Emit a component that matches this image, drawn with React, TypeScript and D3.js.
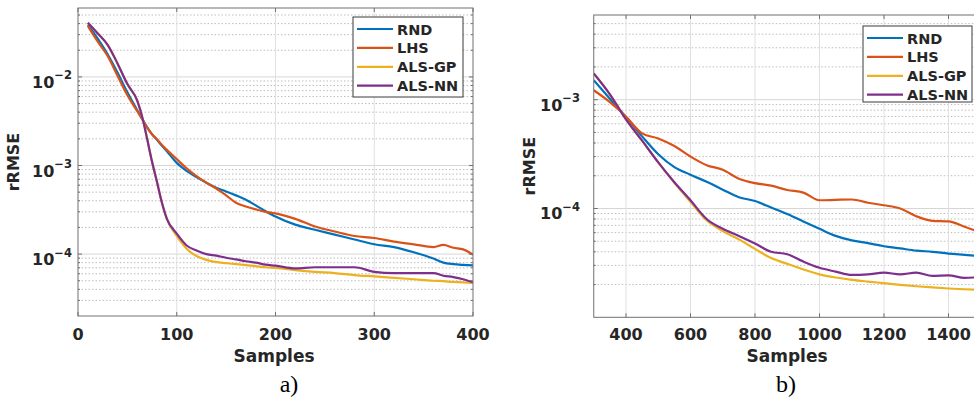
import { useEffect, useRef } from 'react'
import * as d3 from 'd3'

const NAMES = ['RND', 'LHS', 'ALS-GP', 'ALS-NN']
const COLORS = ['#0072BD', '#D95319', '#EDB120', '#7E2F8E']

// panel a)
const A_SAMPLES = [10, 20, 30, 40, 50, 60, 66, 70, 75, 80, 85, 90, 100, 110, 120, 130, 140, 150, 160, 170, 180, 190, 200, 220, 240, 260, 280, 300, 320, 340, 360, 370, 380, 390, 400]
const A_RND = [3.9e-2, 2.7e-2, 1.8e-2, 1.12e-2, 6.7e-3, 4.2e-3, 3.2e-3, 2.7e-3, 2.25e-3, 1.95e-3, 1.67e-3, 1.45e-3, 1.07e-3, 8.7e-4, 7.4e-4, 6.4e-4, 5.6e-4, 5.1e-4, 4.6e-4, 4.1e-4, 3.55e-4, 3.05e-4, 2.65e-4, 2.15e-4, 1.88e-4, 1.66e-4, 1.46e-4, 1.29e-4, 1.2e-4, 1.05e-4, 8.9e-5, 8.0e-5, 7.7e-5, 7.55e-5, 7.45e-5]
const A_LHS = [3.74e-2, 2.5e-2, 1.72e-2, 1.03e-2, 6.2e-3, 4.1e-3, 3.2e-3, 2.7e-3, 2.25e-3, 1.97e-3, 1.7e-3, 1.5e-3, 1.18e-3, 9.3e-4, 7.6e-4, 6.4e-4, 5.5e-4, 4.6e-4, 3.8e-4, 3.45e-4, 3.2e-4, 3.0e-4, 2.88e-4, 2.5e-4, 2.05e-4, 1.8e-4, 1.6e-4, 1.52e-4, 1.38e-4, 1.29e-4, 1.2e-4, 1.27e-4, 1.18e-4, 1.13e-4, 9.8e-5]
const A_GP = [4.1e-2, 3.1e-2, 2.3e-2, 1.42e-2, 8.3e-3, 5.4e-3, 3.2e-3, 2.0e-3, 1.1e-3, 6.5e-4, 3.8e-4, 2.5e-4, 1.6e-4, 1.15e-4, 9.5e-5, 8.6e-5, 8.1e-5, 7.9e-5, 7.7e-5, 7.5e-5, 7.3e-5, 7.1e-5, 7.0e-5, 6.6e-5, 6.3e-5, 6.1e-5, 5.8e-5, 5.6e-5, 5.4e-5, 5.2e-5, 5.0e-5, 4.95e-5, 4.85e-5, 4.8e-5, 4.72e-5]
const A_NN = [4.1e-2, 3.1e-2, 2.3e-2, 1.42e-2, 8.3e-3, 5.4e-3, 3.2e-3, 2.0e-3, 1.1e-3, 6.5e-4, 3.8e-4, 2.5e-4, 1.7e-4, 1.25e-4, 1.1e-4, 1.0e-4, 9.6e-5, 9.1e-5, 8.7e-5, 8.3e-5, 8.0e-5, 7.6e-5, 7.4e-5, 6.9e-5, 7.1e-5, 7.1e-5, 7.1e-5, 6.3e-5, 6.1e-5, 6.1e-5, 6.1e-5, 5.7e-5, 5.5e-5, 5.2e-5, 4.8e-5]
const A_XTICKS = [0, 100, 200, 300, 400]
const A_YTICKS = [1e-4, 1e-3, 1e-2]

// panel b)
const B_SAMPLES = [300, 350, 400, 450, 500, 550, 600, 650, 700, 750, 800, 850, 900, 950, 1000, 1050, 1100, 1150, 1200, 1250, 1300, 1350, 1400, 1450, 1500]
const B_RND = [1.51e-3, 1.02e-3, 6.9e-4, 4.6e-4, 3.15e-4, 2.4e-4, 2.04e-4, 1.76e-4, 1.49e-4, 1.27e-4, 1.17e-4, 1.02e-4, 8.9e-5, 7.6e-5, 6.5e-5, 5.6e-5, 5.1e-5, 4.8e-5, 4.5e-5, 4.3e-5, 4.1e-5, 4.0e-5, 3.85e-5, 3.75e-5, 3.65e-5]
const B_LHS = [1.22e-3, 9.5e-4, 7e-4, 4.9e-4, 4.4e-4, 3.75e-4, 3e-4, 2.5e-4, 2.27e-4, 1.88e-4, 1.71e-4, 1.62e-4, 1.48e-4, 1.4e-4, 1.19e-4, 1.2e-4, 1.21e-4, 1.13e-4, 1.07e-4, 1.0e-4, 8.5e-5, 7.7e-5, 7.6e-5, 6.8e-5, 6.0e-5]
const B_GP = [1.74e-3, 1.12e-3, 6.6e-4, 4.2e-4, 2.65e-4, 1.72e-4, 1.15e-4, 7.8e-5, 6.2e-5, 5.2e-5, 4.25e-5, 3.5e-5, 3.1e-5, 2.75e-5, 2.48e-5, 2.32e-5, 2.21e-5, 2.13e-5, 2.06e-5, 1.99e-5, 1.93e-5, 1.88e-5, 1.84e-5, 1.81e-5, 1.78e-5]
const B_NN = [1.74e-3, 1.12e-3, 6.6e-4, 4.2e-4, 2.65e-4, 1.74e-4, 1.19e-4, 8.0e-5, 6.5e-5, 5.6e-5, 4.77e-5, 4.0e-5, 3.8e-5, 3.25e-5, 2.85e-5, 2.63e-5, 2.45e-5, 2.48e-5, 2.57e-5, 2.48e-5, 2.57e-5, 2.4e-5, 2.43e-5, 2.3e-5, 2.35e-5]
const B_XTICKS = [400, 600, 800, 1000, 1200, 1400]
const B_YTICKS = [1e-4, 1e-3]

const FONT = "'DejaVu Sans', sans-serif"
const INK = '#262626'

type Panel = {
  id: string
  samples: number[]
  series: number[][]
  xDomain: [number, number]
  yDomain: [number, number]
  xTicks: number[]
  yTicks: number[]
  box: { left: number, right: number, top: number, bottom: number }
  yLabelX: number
  yTickRight: number
  legend: { x: number, y: number, w: number, h: number }
  caption: string
  captionX: number
  sampleX: number
}

function drawPanel(svg: d3.Selection<SVGSVGElement, unknown, null, undefined>, p: Panel) {
  const { left, right, top, bottom } = p.box
  const x = d3.scaleLinear().domain(p.xDomain).range([left, right])
  const y = d3.scaleLog().domain(p.yDomain).range([bottom, top])
  const g = svg.append('g')

  // minor log grid
  const minor: number[] = []
  const e0 = Math.floor(Math.log10(p.yDomain[0]))
  const e1 = Math.ceil(Math.log10(p.yDomain[1]))
  for (let e = e0; e <= e1; e++) {
    for (let m = 2; m <= 9; m++) {
      const v = m * Math.pow(10, e)
      if (v > p.yDomain[0] * 1.0001 && v < p.yDomain[1] * 0.9999) minor.push(v)
    }
  }

  g.selectAll('.ymin').data(minor).join('line')
    .attr('x1', left).attr('x2', right)
    .attr('y1', d => y(d)).attr('y2', d => y(d))
    .attr('stroke', '#bdbdbd').attr('stroke-width', 1)
    .attr('stroke-dasharray', '1.5,2')

  g.selectAll('.ymaj').data(p.yTicks).join('line')
    .attr('x1', left).attr('x2', right)
    .attr('y1', d => y(d)).attr('y2', d => y(d))
    .attr('stroke', '#d6d6d6').attr('stroke-width', 1)

  g.selectAll('.xmaj').data(p.xTicks.filter(t => t > p.xDomain[0] && t < p.xDomain[1])).join('line')
    .attr('x1', d => x(d)).attr('x2', d => x(d))
    .attr('y1', top).attr('y2', bottom)
    .attr('stroke', '#e0e0e0').attr('stroke-width', 1)

  // curves
  svg.append('clipPath').attr('id', 'clip-' + p.id)
    .append('rect').attr('x', left).attr('y', top).attr('width', right - left).attr('height', bottom - top)

  const line = d3.line<number>()
    .x((_, i) => x(p.samples[i]))
    .y(d => y(d))
    .curve(d3.curveMonotoneX)

  g.append('g').attr('clip-path', `url(#clip-${p.id})`)
    .selectAll('path').data(p.series).join('path')
    .attr('d', d => line(d))
    .attr('fill', 'none')
    .attr('stroke', (_, i) => COLORS[i])
    .attr('stroke-width', 2.2)
    .attr('stroke-linejoin', 'round')

  // axes box and ticks
  g.append('rect')
    .attr('x', left).attr('y', top).attr('width', right - left).attr('height', bottom - top)
    .attr('fill', 'none').attr('stroke', '#707070').attr('stroke-width', 1)

  const tk = 4
  p.xTicks.forEach(t => {
    g.append('line').attr('x1', x(t)).attr('x2', x(t)).attr('y1', bottom).attr('y2', bottom - tk).attr('stroke', '#707070')
    g.append('line').attr('x1', x(t)).attr('x2', x(t)).attr('y1', top).attr('y2', top + tk).attr('stroke', '#707070')
  })
  p.yTicks.forEach(t => {
    g.append('line').attr('x1', left).attr('x2', left + tk).attr('y1', y(t)).attr('y2', y(t)).attr('stroke', '#707070')
    g.append('line').attr('x1', right).attr('x2', right - tk).attr('y1', y(t)).attr('y2', y(t)).attr('stroke', '#707070')
  })
  minor.forEach(t => {
    g.append('line').attr('x1', left).attr('x2', left + 2).attr('y1', y(t)).attr('y2', y(t)).attr('stroke', '#707070')
    g.append('line').attr('x1', right).attr('x2', right - 2).attr('y1', y(t)).attr('y2', y(t)).attr('stroke', '#707070')
  })

  // tick labels
  g.selectAll('.xl').data(p.xTicks).join('text')
    .attr('x', d => x(d)).attr('y', 340)
    .attr('text-anchor', 'middle')
    .attr('font-family', FONT).attr('font-weight', 'bold').attr('font-size', 16)
    .attr('fill', INK)
    .text(d => String(d))

  p.yTicks.forEach(t => {
    const txt = g.append('text')
      .attr('x', p.yTickRight).attr('y', y(t) + 11)
      .attr('text-anchor', 'end')
      .attr('font-family', FONT).attr('font-weight', 'bold').attr('fill', INK)
    txt.append('tspan').attr('font-size', 16).text('10')
    txt.append('tspan').attr('font-size', 11.5).attr('dy', -8.5)
      .text('\u2212' + Math.abs(Math.round(Math.log10(t))))
  })

  // axis titles
  g.append('text')
    .attr('transform', `translate(${p.yLabelX},${(top + bottom) / 2}) rotate(-90)`)
    .attr('text-anchor', 'middle')
    .attr('font-family', FONT).attr('font-weight', 'bold').attr('font-size', 16)
    .attr('fill', INK)
    .text('rRMSE')

  g.append('text')
    .attr('x', p.sampleX).attr('y', 362)
    .attr('text-anchor', 'middle')
    .attr('font-family', FONT).attr('font-weight', 'bold').attr('font-size', 17)
    .attr('fill', INK)
    .text('Samples')

  g.append('text')
    .attr('x', p.captionX).attr('y', 392)
    .attr('text-anchor', 'middle')
    .attr('font-family', "'Liberation Serif', serif").attr('font-size', 24)
    .attr('fill', '#000')
    .text(p.caption)

  // legend
  const L = p.legend
  const lg = g.append('g')
  lg.append('rect')
    .attr('x', L.x).attr('y', L.y).attr('width', L.w).attr('height', L.h)
    .attr('fill', '#fff').attr('stroke', '#3a3a3a').attr('stroke-width', 1)
  NAMES.forEach((name, i) => {
    const cy = L.y + 12 + i * 18.9
    lg.append('line')
      .attr('x1', L.x + 4).attr('x2', L.x + 40)
      .attr('y1', cy).attr('y2', cy)
      .attr('stroke', COLORS[i]).attr('stroke-width', 2.2)
    lg.append('text')
      .attr('x', L.x + 44).attr('y', cy + 5.5)
      .attr('font-family', FONT).attr('font-weight', 'bold').attr('font-size', 14.5)
      .attr('fill', INK)
      .text(name)
  })
}

export default function App() {
  const svgRef = useRef<SVGSVGElement>(null)

  useEffect(() => {
    const svg = d3.select(svgRef.current as SVGSVGElement)
    svg.selectAll('*').remove()

    drawPanel(svg, {
      id: 'a',
      samples: A_SAMPLES,
      series: [A_RND, A_LHS, A_GP, A_NN],
      xDomain: [0, 400],
      yDomain: [2e-5, 6e-2],
      xTicks: A_XTICKS,
      yTicks: A_YTICKS,
      box: { left: 78, right: 473, top: 8, bottom: 316 },
      yLabelX: 19,
      yTickRight: 72,
      legend: { x: 353, y: 17, w: 110, h: 80 },
      caption: 'a)',
      captionX: 289,
      sampleX: 274,
    })

    drawPanel(svg, {
      id: 'b',
      samples: B_SAMPLES,
      series: [B_RND, B_LHS, B_GP, B_NN],
      xDomain: [300, 1500],
      yDomain: [1e-5, 6e-3],
      xTicks: B_XTICKS,
      yTicks: B_YTICKS,
      box: { left: 593.75, right: 980.75, top: 15, bottom: 317.3 },
      yLabelX: 535,
      yTickRight: 580,
      legend: { x: 863, y: 26, w: 109, h: 76 },
      caption: 'b)',
      captionX: 786,
      sampleX: 787,
    })
  }, [])

  return (
    <svg
      ref={svgRef}
      width={974}
      height={401}
      style={{ position: 'absolute', left: 0, top: 0, background: '#fff' }}
    />
  )
}
